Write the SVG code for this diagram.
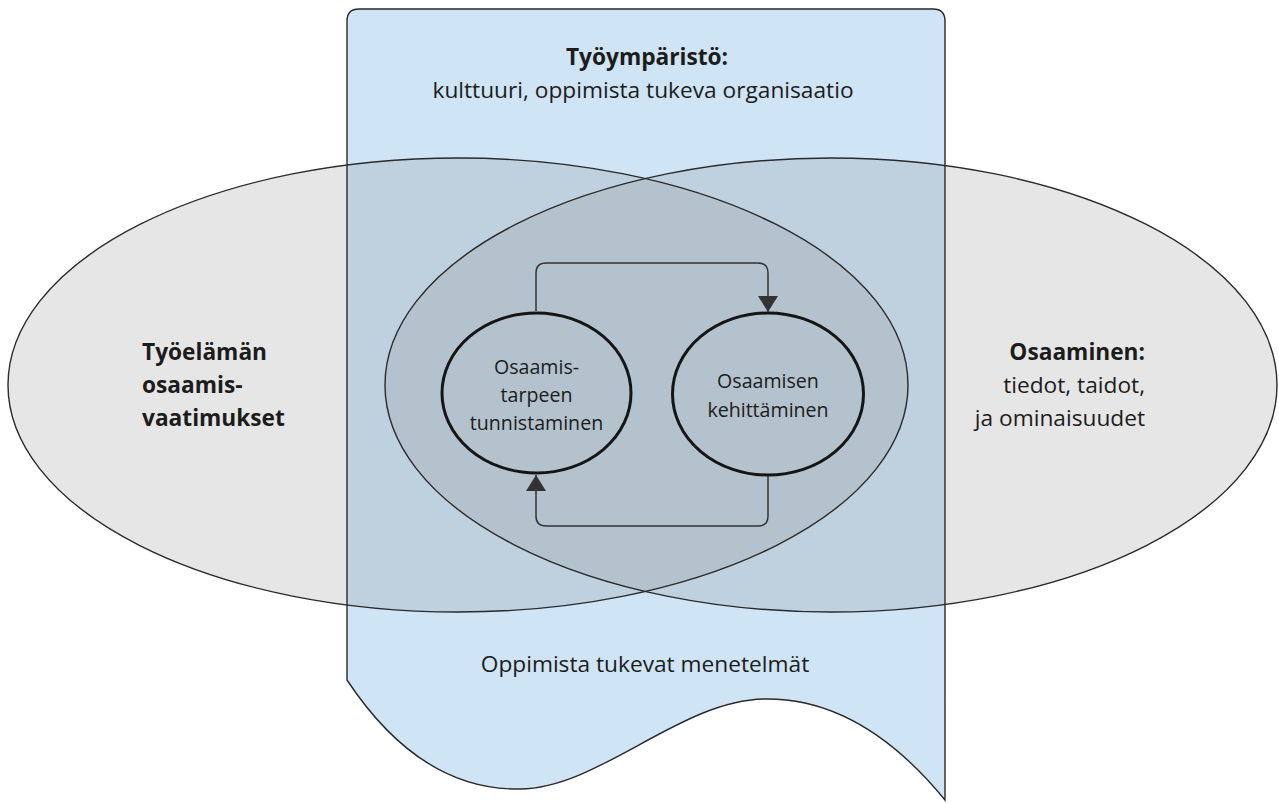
<svg xmlns="http://www.w3.org/2000/svg" width="1279" height="803" viewBox="0 0 1279 803">
  <style>
    text { font-family: "Open Sans", "Noto Sans", "Liberation Sans", sans-serif; fill: #1c1c1c; }
    .t21 { font-size: 22.7px; }
    .b { font-weight: bold; }
    .t19 { font-size: 19.6px; }
    .outline { fill: none; stroke: #2a2a2a; stroke-width: 1.4; }
    .circle { fill: none; stroke: #151515; stroke-width: 3; }
    .conn { fill: none; stroke: #333; stroke-width: 1.5; }
  </style>
  <defs>
    <clipPath id="clipBlue">
      <path d="M347,680 V21 Q347,9 359,9 H933 Q945,9 945,21 V800 C900,745 840,698 765,699 C680,700 600,788 520,789 C460,790 400,760 347,680 Z"/>
    </clipPath>
    <clipPath id="clipL">
      <ellipse cx="458" cy="385" rx="450" ry="227"/>
    </clipPath>
    <marker id="arr" viewBox="0 0 16 20" refX="16" refY="10" markerWidth="16" markerHeight="20" orient="auto" markerUnits="userSpaceOnUse">
      <path d="M0,0 L16,10 L0,20 Z" fill="#333"/>
    </marker>
  </defs>

  <!-- background fills -->
  <g id="fills">
    <ellipse cx="458" cy="385" rx="450" ry="227" fill="#e6e6e6"/>
    <ellipse cx="831" cy="385" rx="446" ry="227" fill="#e6e6e6"/>
    <path d="M347,680 V21 Q347,9 359,9 H933 Q945,9 945,21 V800 C900,745 840,698 765,699 C680,700 600,788 520,789 C460,790 400,760 347,680 Z" fill="#cfe4f4"/>
    <g clip-path="url(#clipBlue)">
      <ellipse cx="458" cy="385" rx="450" ry="227" fill="#bfd1df"/>
      <ellipse cx="831" cy="385" rx="446" ry="227" fill="#bfd1df"/>
      <g clip-path="url(#clipL)">
        <ellipse cx="831" cy="385" rx="446" ry="227" fill="#b3c2cd"/>
      </g>
    </g>
  </g>

  <g id="work-requirements">
    <ellipse class="outline" cx="458" cy="385" rx="450" ry="227"/>
    <text class="t21 b" x="142" y="360">Työelämän</text>
    <text class="t21 b" x="142" y="393">osaamis-</text>
    <text class="t21 b" x="142" y="426">vaatimukset</text>
  </g>

  <g id="competence">
    <ellipse class="outline" cx="831" cy="385" rx="446" ry="227"/>
    <text class="t21 b" x="1145" y="360" text-anchor="end">Osaaminen:</text>
    <text class="t21" x="1145" y="393" text-anchor="end">tiedot, taidot,</text>
    <text class="t21" x="1145" y="426" text-anchor="end">ja ominaisuudet</text>
  </g>

  <g id="work-environment">
    <path class="outline" d="M347,680 V21 Q347,9 359,9 H933 Q945,9 945,21 V800 C900,745 840,698 765,699 C680,700 600,788 520,789 C460,790 400,760 347,680 Z"/>
    <text class="t21 b" x="647" y="65" text-anchor="middle">Työympäristö:</text>
    <text class="t21" x="643" y="98" text-anchor="middle">kulttuuri, oppimista tukeva organisaatio</text>
    <text class="t21" x="645" y="672" text-anchor="middle">Oppimista tukevat menetelmät</text>
  </g>

  <g id="need-identification">
    <ellipse class="circle" cx="536.5" cy="393" rx="94.5" ry="80"/>
    <text class="t19" x="536.5" y="374" text-anchor="middle">Osaamis-</text>
    <text class="t19" x="536.5" y="402" text-anchor="middle">tarpeen</text>
    <text class="t19" x="536.5" y="430" text-anchor="middle">tunnistaminen</text>
  </g>

  <g id="competence-development">
    <ellipse class="circle" cx="768" cy="394" rx="95.5" ry="81"/>
    <text class="t19" x="768" y="388" text-anchor="middle">Osaamisen</text>
    <text class="t19" x="768" y="417" text-anchor="middle">kehittäminen</text>
  </g>

  <g id="connectors">
    <path class="conn" d="M536,311 V273 Q536,263 546,263 H758 Q768,263 768,273 V312" marker-end="url(#arr)"/>
    <path class="conn" d="M768,476 V516 Q768,526 758,526 H546 Q536,526 536,516 V475" marker-end="url(#arr)"/>
  </g>
</svg>
